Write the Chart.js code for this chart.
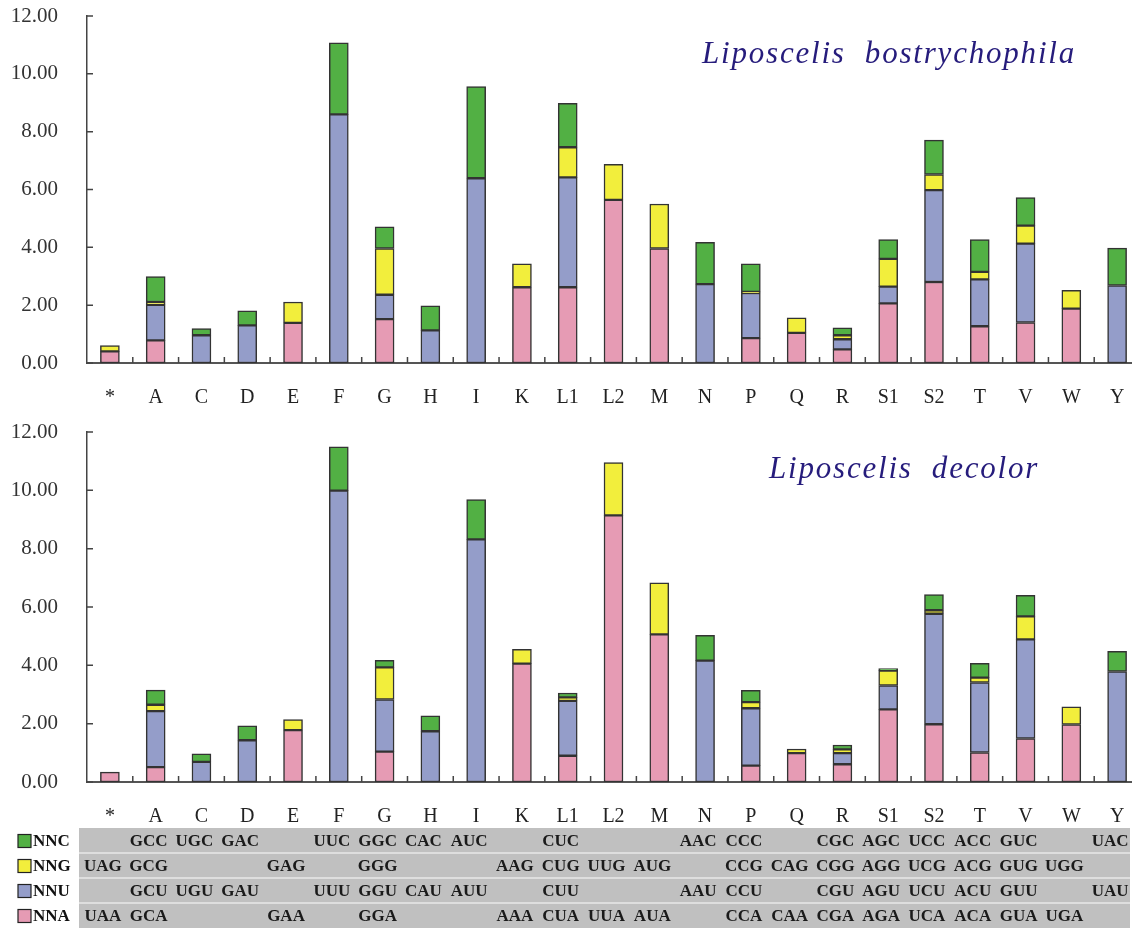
<!DOCTYPE html>
<html>
<head>
<meta charset="utf-8">
<script src="https://cdn.jsdelivr.net/npm/chart.js@4.4.0/dist/chart.umd.min.js"></script>
<style>
  html, body { margin: 0; padding: 0; background: #fff; overflow: hidden; }
  #wrap { position: relative; width: 1132px; height: 929px; overflow: hidden; }
  #wrap canvas { position: absolute; left: 0; }
  #chartTop { top: 0; }
  #chartBottom { top: 412px; }
</style>
</head>
<body>
<div id="wrap">
  <canvas id="chartTop" width="1140" height="412"></canvas>
  <canvas id="chartBottom" width="1140" height="517"></canvas>
</div>
<script>
// ---- data ----
const CATEGORIES = ['*', 'A', 'C', 'D', 'E', 'F', 'G', 'H', 'I', 'K', 'L1', 'L2', 'M', 'N', 'P', 'Q', 'R', 'S1', 'S2', 'T', 'V', 'W', 'Y'];

// Liposcelis bostrychophila
const LB_NNA = [0.40, 0.78, null, null, 1.39, null, 1.52, null, null, 2.62, 2.62, 5.64, 3.96, null, 0.86, 1.04, 0.47, 2.06, 2.80, 1.27, 1.40, 1.88, null];
const LB_NNU = [null, 1.23, 0.96, 1.30, null, 8.60, 0.84, 1.13, 6.39, null, 3.80, null, null, 2.73, 1.56, null, 0.35, 0.58, 3.18, 1.62, 2.73, null, 2.68];
const LB_NNG = [0.20, 0.10, null, null, 0.72, null, 1.60, null, null, 0.81, 1.04, 1.23, 1.54, null, 0.04, 0.52, 0.14, 0.96, 0.54, 0.26, 0.62, 0.63, null];
const LB_NNC = [null, 0.88, 0.23, 0.50, null, 2.47, 0.75, 0.85, 3.17, null, 1.52, null, null, 1.44, 0.97, null, 0.26, 0.67, 1.19, 1.12, 0.97, null, 1.29];

// Liposcelis decolor
const LD_NNA = [0.34, 0.51, null, null, 1.78, null, 1.04, null, null, 4.06, 0.90, 9.14, 5.06, null, 0.56, 0.99, 0.61, 2.49, 1.98, 1.01, 1.49, 1.97, null];
const LD_NNU = [null, 1.92, 0.69, 1.43, null, 9.99, 1.79, 1.74, 8.32, null, 1.88, null, null, 4.16, 1.97, null, 0.38, 0.82, 3.79, 2.40, 3.40, null, 3.79];
const LD_NNG = [null, 0.22, null, null, 0.36, null, 1.10, null, null, 0.49, 0.12, 1.81, 1.77, null, 0.21, 0.14, 0.13, 0.51, 0.12, 0.17, 0.79, 0.61, null];
const LD_NNC = [null, 0.50, 0.28, 0.50, null, 1.50, 0.24, 0.53, 1.36, null, 0.15, null, null, 0.87, 0.40, null, 0.15, 0.07, 0.54, 0.49, 0.72, null, 0.69];

// codon table (one entry per category, '' = none)
const CODON_NNC = ['', 'GCC', 'UGC', 'GAC', '', 'UUC', 'GGC', 'CAC', 'AUC', '', 'CUC', '', '', 'AAC', 'CCC', '', 'CGC', 'AGC', 'UCC', 'ACC', 'GUC', '', 'UAC'];
const CODON_NNG = ['UAG', 'GCG', '', '', 'GAG', '', 'GGG', '', '', 'AAG', 'CUG', 'UUG', 'AUG', '', 'CCG', 'CAG', 'CGG', 'AGG', 'UCG', 'ACG', 'GUG', 'UGG', ''];
const CODON_NNU = ['', 'GCU', 'UGU', 'GAU', '', 'UUU', 'GGU', 'CAU', 'AUU', '', 'CUU', '', '', 'AAU', 'CCU', '', 'CGU', 'AGU', 'UCU', 'ACU', 'GUU', '', 'UAU'];
const CODON_NNA = ['UAA', 'GCA', '', '', 'GAA', '', 'GGA', '', '', 'AAA', 'CUA', 'UUA', 'AUA', '', 'CCA', 'CAA', 'CGA', 'AGA', 'UCA', 'ACA', 'GUA', 'UGA', ''];

const Y_MAX = 12;
const Y_STEP = 2;

// ---- styles ----
const COLORS = {
  NNA: '#e69bb4',
  NNU: '#949dc9',
  NNG: '#f2ee3c',
  NNC: '#52b044'
};
const SERIF = "'Liberation Serif', 'DejaVu Serif', serif";

const CODON_ROWS = [
  { name: 'NNC', codons: CODON_NNC },
  { name: 'NNG', codons: CODON_NNG },
  { name: 'NNU', codons: CODON_NNU },
  { name: 'NNA', codons: CODON_NNA }
];

// small inward tick marks on both axes
const insideTicks = {
  id: 'insideTicks',
  afterDraw(chart) {
    const { ctx, chartArea } = chart;
    const x = chart.scales.x, y = chart.scales.y;
    ctx.save();
    ctx.strokeStyle = '#444';
    ctx.lineWidth = 1.5;
    ctx.beginPath();
    y.ticks.forEach(t => {
      const py = y.getPixelForValue(t.value);
      ctx.moveTo(chartArea.left, py);
      ctx.lineTo(chartArea.left + 6, py);
    });
    for (let i = 1; i < CATEGORIES.length; i++) {
      const px = (x.getPixelForValue(i - 1) + x.getPixelForValue(i)) / 2;
      ctx.moveTo(px, chartArea.bottom);
      ctx.lineTo(px, chartArea.bottom - 6);
    }
    ctx.stroke();
    ctx.restore();
  }
};

// italic species name inside the plot
const speciesTitle = {
  id: 'speciesTitle',
  afterDraw(chart, args, opts) {
    const { ctx } = chart;
    ctx.save();
    ctx.font = 'italic 31px ' + SERIF;
    ctx.fillStyle = '#261c7c';
    ctx.textAlign = 'left';
    ctx.textBaseline = 'alphabetic';
    if ('letterSpacing' in ctx) ctx.letterSpacing = '1.8px';
    ctx.fillText(opts.text, opts.x, opts.y);
    ctx.restore();
  }
};

// codon table + legend under the lower chart
const codonTable = {
  id: 'codonTable',
  afterDraw(chart, args, opts) {
    const { ctx } = chart;
    const x = chart.scales.x;
    const rowH = opts.rowHeight;
    const top = opts.top;
    ctx.save();
    ctx.fillStyle = '#c0c0c0';
    ctx.fillRect(opts.left, top, opts.right - opts.left, rowH * CODON_ROWS.length);
    ctx.strokeStyle = '#e8e8e8';
    ctx.lineWidth = 1.5;
    ctx.beginPath();
    for (let r = 1; r < CODON_ROWS.length; r++) {
      ctx.moveTo(opts.left, top + rowH * r);
      ctx.lineTo(opts.right, top + rowH * r);
    }
    ctx.stroke();

    ctx.font = 'bold 17px ' + SERIF;
    ctx.textBaseline = 'middle';
    CODON_ROWS.forEach((row, r) => {
      const cy = top + rowH * r + rowH / 2;
      // legend key
      ctx.fillStyle = COLORS[row.name];
      ctx.fillRect(18, cy - 6, 13, 13);
      ctx.strokeStyle = '#222';
      ctx.lineWidth = 1.2;
      ctx.strokeRect(18, cy - 6, 13, 13);
      ctx.fillStyle = '#111';
      ctx.textAlign = 'left';
      ctx.fillText(row.name, 33, cy + 1);
      // codons
      ctx.textAlign = 'center';
      ctx.fillStyle = '#1a1a1a';
      row.codons.forEach((c, i) => {
        if (!c) return;
        ctx.fillText(c, x.getPixelForValue(i) - 7, cy + 1);
      });
    });
    ctx.restore();
  }
};

function buildDatasets(nna, nnu, nng, nnc) {
  return [
    { label: 'NNA', data: nna },
    { label: 'NNU', data: nnu },
    { label: 'NNG', data: nng },
    { label: 'NNC', data: nnc }
  ].map(d => Object.assign(d, {
    backgroundColor: COLORS[d.label],
    borderColor: '#333',
    borderWidth: 1.5,
    borderSkipped: false,
    barThickness: 19
  }));
}

function buildOptions(padTop, xAxisHeight, extraPlugins) {
  return {
    responsive: false,
    animation: false,
    layout: { autoPadding: false, padding: { top: padTop, left: 0, right: 0, bottom: 0 } },
    plugins: Object.assign({
      legend: { display: false },
      tooltip: { enabled: true }
    }, extraPlugins),
    scales: {
      x: {
        stacked: true,
        offset: true,
        grid: { display: false, drawTicks: false },
        border: { display: true, color: '#555', width: 2 },
        ticks: {
          color: '#222',
          font: { family: SERIF, size: 20 },
          padding: 23,
          maxRotation: 0,
          autoSkip: false
        },
        afterFit: (scale) => {
          scale.height = xAxisHeight;
          scale.paddingLeft = 0;
          scale.paddingRight = 0;
        }
      },
      y: {
        stacked: true,
        min: 0,
        max: Y_MAX,
        grid: { display: false, drawTicks: false },
        border: { display: true, color: '#444', width: 1.5 },
        ticks: {
          stepSize: Y_STEP,
          padding: 29,
          color: '#333',
          font: { family: SERIF, size: 21 },
          callback: (v) => v.toFixed(2)
        },
        afterFit: (scale) => {
          scale.width = 87;
          scale.paddingTop = 0;
          scale.paddingBottom = 0;
        }
      }
    }
  };
}

function createTopChart() {
  const ctx = document.getElementById('chartTop');
  if (!ctx) return;
  new Chart(ctx, {
    type: 'bar',
    data: { labels: CATEGORIES, datasets: buildDatasets(LB_NNA, LB_NNU, LB_NNG, LB_NNC) },
    options: buildOptions(16, 49, {
      speciesTitle: { text: 'Liposcelis  bostrychophila', x: 702, y: 63 }
    }),
    plugins: [insideTicks, speciesTitle]
  });
}

function createBottomChart() {
  const ctx = document.getElementById('chartBottom');
  if (!ctx) return;
  new Chart(ctx, {
    type: 'bar',
    data: { labels: CATEGORIES, datasets: buildDatasets(LD_NNA, LD_NNU, LD_NNG, LD_NNC) },
    options: buildOptions(20, 147, {
      speciesTitle: { text: 'Liposcelis  decolor', x: 769, y: 66 },
      codonTable: { top: 416, rowHeight: 25, left: 79, right: 1130 }
    }),
    plugins: [insideTicks, speciesTitle, codonTable]
  });
}

createTopChart();
createBottomChart();
</script>
</body>
</html>
